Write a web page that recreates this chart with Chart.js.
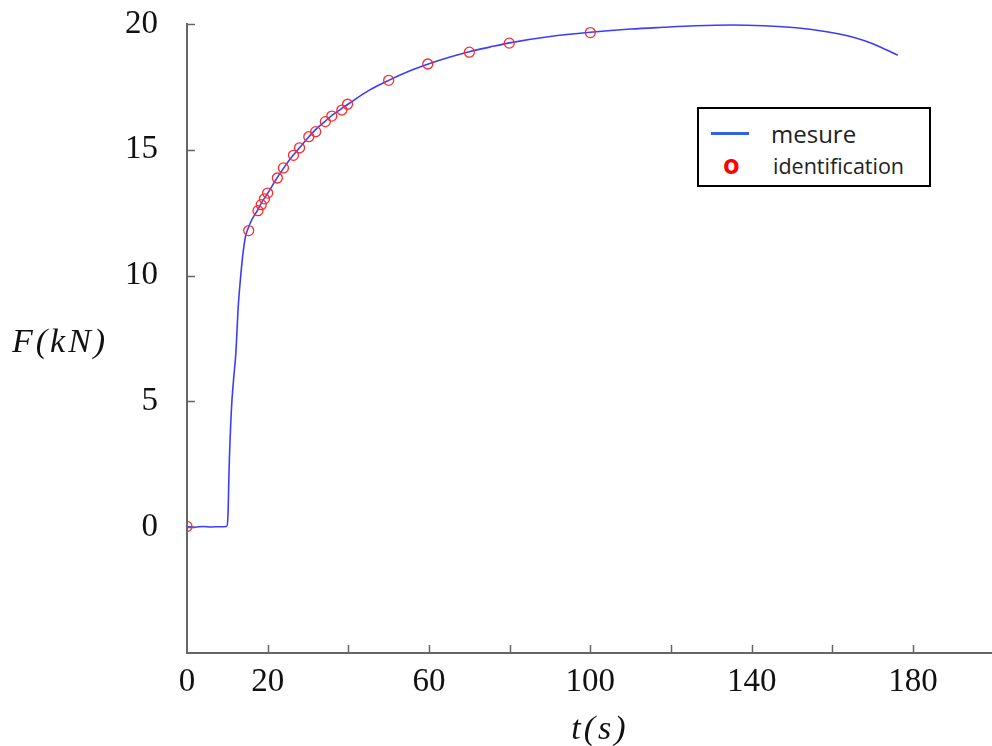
<!DOCTYPE html>
<html>
<head>
<meta charset="utf-8">
<script src="https://cdn.jsdelivr.net/npm/chart.js@4"></script>
<style>
  html, body { margin: 0; padding: 0; background: #fff; overflow: hidden; }
  #wrap { position: relative; width: 1000px; height: 746px; }
  #legend {
    position: absolute; left: 697px; top: 107px; width: 230px; height: 76px;
    border: 2px solid #000; background: #fff;
    font-family: "Open Sans", sans-serif; color: #222;
  }
  #legend .line { position: absolute; left: 12px; top: 23px; width: 38px; height: 3px; background: #2f63e0; }
  #legend .mark { position: absolute; left: 24px; top: 36px; font-size: 27px; font-weight: bold; color: #f00; }
  #legend .t1 { position: absolute; left: 72px; top: 8px; font-size: 24px; }
  #legend .t2 { position: absolute; left: 74px; top: 42px; font-size: 21.5px; }
</style>
</head>
<body>
<div id="wrap">
  <canvas id="forceChart"></canvas>
  <div id="legend">
    <div class="line"></div><div class="t1">mesure</div>
    <div class="mark">o</div><div class="t2">identification</div>
  </div>
</div>
<script>
document.addEventListener("DOMContentLoaded", function () {
    const timeS = [0, 2, 4, 6, 8, 9.8, 10.2, 10.4, 11.0, 11.6, 12.1, 12.7, 13.3, 13.9, 14.5, 15.1,
        16, 17.5, 18.5, 19.5, 20.5, 22, 24, 26, 28, 30, 32, 34, 36, 38, 40, 45, 50, 55, 60, 65,
        70, 75, 80, 90, 100, 110, 118, 126, 135, 143, 151, 159, 164, 168, 172, 176.2];
    const forceKN = [0.02, 0.0, 0.03, 0.01, 0.02, 0.03, 0.66, 2.12, 4.65, 5.97, 6.9, 8.76, 9.96, 10.9, 11.56, 11.85,
        12.2, 12.6, 12.9, 13.15, 13.4, 13.8, 14.28, 14.72, 15.1, 15.48, 15.82, 16.1, 16.38, 16.6, 16.82, 17.35, 17.76, 18.12, 18.42, 18.68,
        18.9, 19.08, 19.25, 19.5, 19.67, 19.8, 19.87, 19.93, 19.96, 19.93, 19.85, 19.68, 19.52, 19.33, 19.08, 18.76];

    // identification points (red circles)
    const identT = [0, 15.3, 17.6, 18.4, 19.2, 20.0, 22.4, 23.9, 26.4, 27.9, 30.2, 31.9, 34.3, 35.9, 38.4, 39.8,
        50, 59.7, 70, 79.9, 100];
    const identF = [0.03, 11.79, 12.58, 12.82, 13.05, 13.28, 13.88, 14.28, 14.78, 15.08, 15.52, 15.72, 16.12, 16.34, 16.58, 16.81,
        17.76, 18.41, 18.88, 19.24, 19.66];

    const xLabelled = [0, 20, 60, 100, 140, 180];
    const yLabelled = [0, 5, 10, 15, 20];

    const axisColor = "#666";
    const tickFont = { family: "'Liberation Serif', serif", size: 33 };

    // small inward tick marks, like the original figure
    const innerTicks = {
        id: "innerTicks",
        afterDraw(chart) {
            const { ctx, scales: { x, y } } = chart;
            ctx.save();
            ctx.strokeStyle = axisColor;
            ctx.lineWidth = 1.5;
            ctx.beginPath();
            x.ticks.forEach(t => {
                if (t.value <= x.min || t.value >= x.max) return;
                const px = Math.round(x.getPixelForValue(t.value)) + 0.5;
                ctx.moveTo(px, x.top);
                ctx.lineTo(px, x.top - 8);
            });
            y.ticks.forEach(t => {
                if (t.value <= y.min) return;
                const py = Math.round(y.getPixelForValue(t.value)) + 0.5;
                ctx.moveTo(y.right, py);
                ctx.lineTo(y.right + 8, py);
            });
            ctx.stroke();
            ctx.restore();
        }
    };

    // axis titles drawn horizontally
    const axisTitles = {
        id: "axisTitles",
        afterDraw(chart) {
            const { ctx, chartArea } = chart;
            ctx.save();
            ctx.fillStyle = "#111";
            ctx.font = "italic 34px 'Liberation Serif', serif";
            ctx.letterSpacing = "3px";
            ctx.textBaseline = "middle";
            ctx.textAlign = "left";
            ctx.fillText("F(kN)", 12, (chartArea.top + chartArea.bottom) / 2 + 5);
            ctx.textAlign = "center";
            ctx.fillText("t(s)", 600, 730);
            ctx.restore();
        }
    };

    const ctx = document.getElementById("forceChart").getContext("2d");
    new Chart(ctx, {
        type: "scatter",
        data: {
            datasets: [
                {
                    label: "mesure",
                    data: timeS.map((t, i) => ({ x: t, y: forceKN[i] })),
                    showLine: true,
                    borderColor: "#3c3cff",
                    borderWidth: 1.6,
                    pointRadius: 0,
                    cubicInterpolationMode: "monotone",
                    order: 2
                },
                {
                    label: "identification",
                    data: identT.map((t, i) => ({ x: t, y: identF[i] })),
                    showLine: false,
                    pointStyle: "circle",
                    pointRadius: 5,
                    borderColor: "#ff2a2a",
                    borderWidth: 1.3,
                    backgroundColor: "rgba(0,0,0,0)",
                    order: 1
                }
            ]
        },
        options: {
            responsive: true,
            maintainAspectRatio: false,
            animation: false,
            layout: { padding: { top: 24, right: 2, left: 0, bottom: 0 } },
            plugins: {
                legend: { display: false },
                tooltip: { enabled: false }
            },
            scales: {
                x: {
                    type: "linear",
                    min: 0,
                    max: 200,
                    grid: { display: false, drawTicks: false },
                    border: { display: true, color: axisColor, width: 2 },
                    ticks: {
                        stepSize: 20,
                        autoSkip: false,
                        maxRotation: 0,
                        padding: 10,
                        color: "#111",
                        font: tickFont,
                        callback: v => (xLabelled.includes(v) ? String(v) : "")
                    },
                    afterFit(scale) {
                        scale.height = 93;
                        scale.paddingLeft = 0;
                        scale.paddingRight = 0;
                    }
                },
                y: {
                    type: "linear",
                    min: -5,
                    max: 20,
                    grid: { display: false, drawTicks: false },
                    border: { display: true, color: axisColor, width: 2 },
                    ticks: {
                        stepSize: 5,
                        padding: 29,
                        color: "#111",
                        font: tickFont,
                        callback: v => (yLabelled.includes(v) ? String(v) : "")
                    },
                    afterFit(scale) {
                        scale.width = 187;
                        scale.paddingTop = 0;
                        scale.paddingBottom = 0;
                    }
                }
            }
        },
        plugins: [innerTicks, axisTitles]
    });
});
</script>
</body>
</html>
